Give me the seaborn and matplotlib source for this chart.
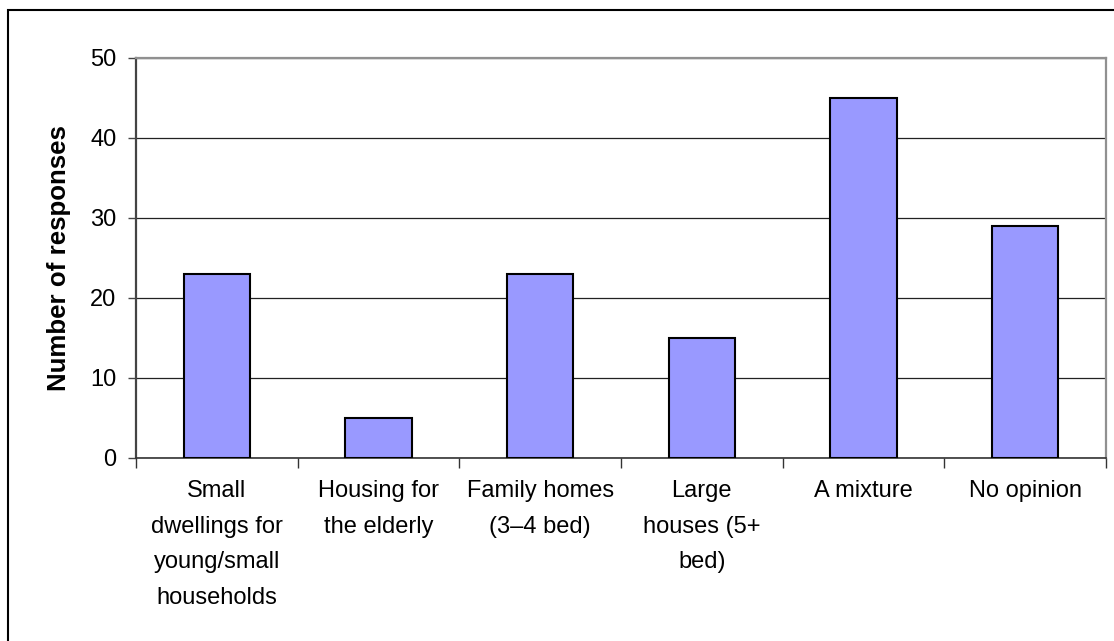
import matplotlib
matplotlib.use("Agg")
import matplotlib.pyplot as plt
import seaborn as sns
import pandas as pd
from matplotlib.patches import Rectangle
from matplotlib.ticker import FixedLocator

categories = [
    "Small\ndwellings for\nyoung/small\nhouseholds",
    "Housing for\nthe elderly",
    "Family homes\n(3\u20134 bed)",
    "Large\nhouses (5+\nbed)",
    "A mixture",
    "No opinion",
]
responses = [23, 5, 23, 15, 45, 29]
y_ticks = [0, 10, 20, 30, 40, 50]

sns.set_theme(style="white")
plt.rcParams["font.family"] = ["Liberation Sans", "DejaVu Sans"]

df = pd.DataFrame({"category": categories, "responses": responses})

fig = plt.figure(figsize=(11.14, 6.41), dpi=100)
ax = fig.add_axes([136 / 1114, 1 - 458 / 641, 970 / 1114, 400 / 641])

# outer chart border (top and left edges visible)
fig.patches.append(Rectangle((8 / 1114, -0.1), 1.2, 1 - 10 / 641 + 0.1,
                             transform=fig.transFigure, fill=False,
                             edgecolor="black", linewidth=1.5, zorder=0))

sns.barplot(data=df, x="category", y="responses", color="#9999FF",
            saturation=1, width=0.41, edgecolor="black", linewidth=1.5,
            ax=ax, zorder=3)

ax.set_ylim(0, 50)
ax.set_xlim(-0.5, len(categories) - 0.5)
ax.set_yticks(y_ticks)
ax.yaxis.grid(True, color="#222222", linewidth=0.9, zorder=1)
ax.set_axisbelow(True)

ax.tick_params(axis="y", which="major", direction="out", length=6, width=1,
               color="#444444", labelsize=17, pad=8, left=True)
ax.set_yticklabels([str(t) for t in y_ticks], fontsize=17, color="black")

# category labels centred under bars, tick marks on category boundaries
ax.tick_params(axis="x", which="major", length=0, labelsize=17, pad=16)
ax.xaxis.set_minor_locator(FixedLocator([i - 0.5 for i in range(len(categories) + 1)]))
ax.tick_params(axis="x", which="minor", direction="out", length=7, width=1,
               color="#333333", bottom=True)
for lbl in ax.get_xticklabels():
    lbl.set_linespacing(1.8)
    lbl.set_color("black")

ax.set_xlabel("")
ax.set_ylabel("Number of responses", fontsize=18.6, fontweight="bold",
              color="black", labelpad=14)

ax.spines["left"].set_color("#444444")
ax.spines["left"].set_linewidth(1.6)
ax.spines["bottom"].set_color("#333333")
ax.spines["bottom"].set_linewidth(1.2)
for side in ("top", "right"):
    ax.spines[side].set_visible(True)
    ax.spines[side].set_color("#909090")
    ax.spines[side].set_linewidth(1.6)

fig.savefig("out.png", dpi=100)
